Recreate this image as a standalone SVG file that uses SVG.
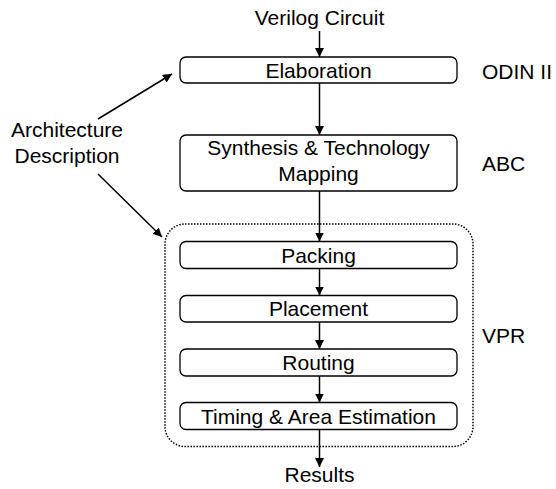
<svg xmlns="http://www.w3.org/2000/svg" width="556" height="489" viewBox="0 0 556 489">
  <style>
    text { font-family: "Liberation Sans", Arial, sans-serif; font-size: 21px; fill: #000; }
    .mid { text-anchor: middle; }
    .box { fill: #fff; stroke: #000; stroke-width: 1.3; }
    .edge { fill: none; stroke: #000; stroke-width: 1.5; marker-end: url(#arrow); }
    .group { fill: none; stroke: #000; stroke-width: 1.5; stroke-dasharray: 1.5 1.5; }
  </style>
  <defs>
    <marker id="arrow" viewBox="0 0 10 10" refX="10" refY="5" markerWidth="9" markerHeight="9" markerUnits="userSpaceOnUse" orient="auto">
      <path d="M0,0 L10,5 L0,10 Z" fill="#000"/>
    </marker>
  </defs>

  <!-- VPR region -->
  <g id="vpr-group">
    <rect class="group" x="165" y="224" width="308" height="222.5" rx="20"/>
    <text x="482" y="343">VPR</text>
  </g>

  <!-- connectors -->
  <g id="connectors">
    <line class="edge" x1="319.5" y1="31" x2="319.5" y2="57"/>
    <line class="edge" x1="319.5" y1="83" x2="319.5" y2="135"/>
    <line class="edge" x1="319.5" y1="191" x2="319.5" y2="241.5"/>
    <line class="edge" x1="319.5" y1="268.5" x2="319.5" y2="295.5"/>
    <line class="edge" x1="319.5" y1="322" x2="319.5" y2="349"/>
    <line class="edge" x1="319.5" y1="376" x2="319.5" y2="402.5"/>
    <line class="edge" x1="319.5" y1="429.5" x2="319.5" y2="467"/>
    <line class="edge" x1="98" y1="119" x2="172" y2="74"/>
    <line class="edge" x1="98" y1="174" x2="162" y2="237"/>
  </g>

  <g id="input">
    <text class="mid" x="319.5" y="25">Verilog Circuit</text>
  </g>

  <g id="arch">
    <text class="mid" x="67" y="137">Architecture</text>
    <text class="mid" x="67" y="163">Description</text>
  </g>

  <g id="elaboration">
    <rect class="box" x="180" y="57" width="277" height="26" rx="6"/>
    <text class="mid" x="318.5" y="78">Elaboration</text>
    <text x="482" y="79">ODIN II</text>
  </g>

  <g id="synthesis">
    <rect class="box" x="180" y="135" width="277" height="56" rx="6"/>
    <text class="mid" x="318.5" y="155">Synthesis &amp; Technology</text>
    <text class="mid" x="318.5" y="181">Mapping</text>
    <text x="482" y="170.5">ABC</text>
  </g>

  <g id="packing">
    <rect class="box" x="180" y="241.5" width="277" height="27" rx="6"/>
    <text class="mid" x="318.5" y="262.5">Packing</text>
  </g>

  <g id="placement">
    <rect class="box" x="180" y="295.5" width="277" height="26.5" rx="6"/>
    <text class="mid" x="318.5" y="316">Placement</text>
  </g>

  <g id="routing">
    <rect class="box" x="180" y="349" width="277" height="27" rx="6"/>
    <text class="mid" x="318.5" y="370">Routing</text>
  </g>

  <g id="timing">
    <rect class="box" x="180" y="402.5" width="277" height="27" rx="6"/>
    <text class="mid" x="318.5" y="423.5">Timing &amp; Area Estimation</text>
  </g>

  <g id="results">
    <text class="mid" x="319.5" y="482">Results</text>
  </g>
</svg>
